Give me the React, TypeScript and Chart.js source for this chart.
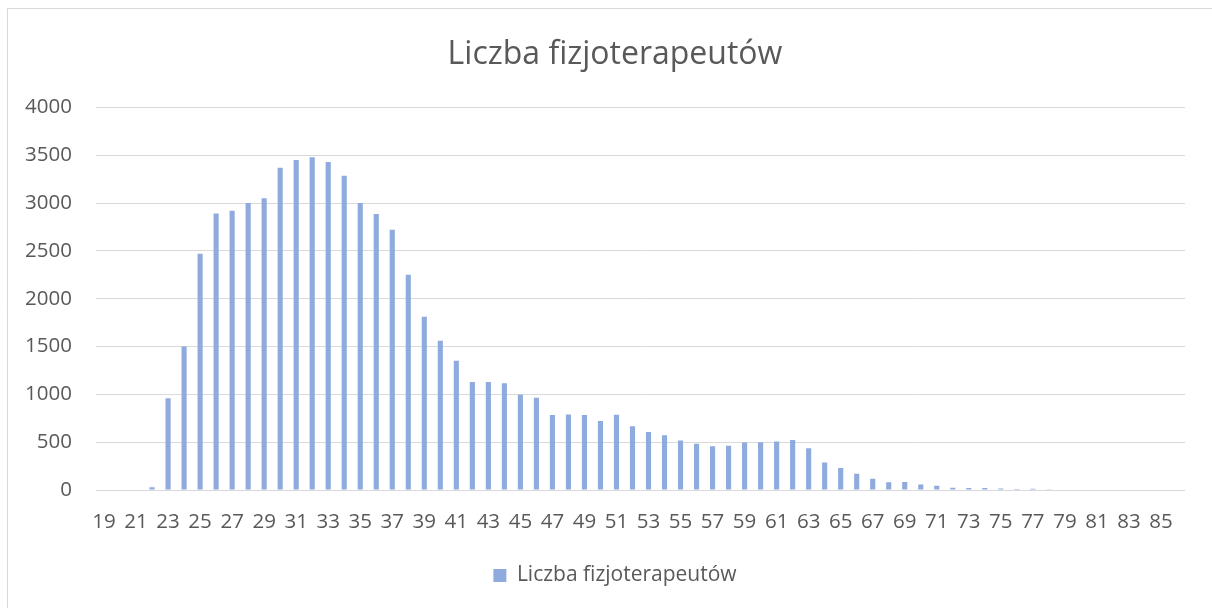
import React, { useEffect, useRef } from "react";
import { Chart, registerables } from "chart.js";

Chart.register(...registerables);

const ages: string[] = [];
for (let a = 19; a <= 86; a++) ages.push(String(a));

const counts: number[] = [
  0, 0, 0, 30, 960, 1500, 2470, 2890, 2920, 3000,
  3050, 3370, 3450, 3480, 3430, 3285, 3000, 2885, 2720, 2250,
  1810, 1560, 1350, 1130, 1128, 1115, 995, 965, 783, 790,
  783, 722, 787, 667, 607, 573, 517, 483, 458, 462,
  496, 498, 507, 524, 437, 287, 231, 170, 118, 80,
  83, 58, 45, 24, 21, 21, 15, 10, 12, 3,
  0, 0, 0, 0, 0, 0, 0, 0,
];

const seriesName = "Liczba fizjoterapeutów";
const titleText = "Liczba fizjoterapeutów";

const FONT = "'Open Sans', 'Noto Sans', sans-serif";
const TEXT = "#595959";
const GRID = "#d9d9d9";
const BAR = "#8FAADC";

const borderPlugin = {
  id: "outerBorder",
  beforeDraw(chart: any) {
    const ctx = chart.ctx;
    ctx.save();
    ctx.fillStyle = "#ffffff";
    ctx.fillRect(0, 0, chart.width, chart.height);
    ctx.strokeStyle = GRID;
    ctx.lineWidth = 1;
    ctx.beginPath();
    ctx.moveTo(7.5, chart.height);
    ctx.lineTo(7.5, 8.5);
    ctx.lineTo(chart.width, 8.5);
    ctx.stroke();
    ctx.restore();
  },
};

export default function App() {
  const ref = useRef<HTMLCanvasElement | null>(null);
  useEffect(() => {
    document.body.style.margin = "0";
    if (!ref.current) return;
    const chart = new Chart(ref.current, {
      type: "bar",
      data: {
        labels: ages,
        datasets: [
          {
            label: seriesName,
            data: counts,
            backgroundColor: BAR,
            borderWidth: 0,
            categoryPercentage: 1,
            barPercentage: 0.32,
          },
        ],
      },
      options: {
        animation: false,
        responsive: false,
        maintainAspectRatio: false,
        layout: { padding: { top: 11, right: 27, bottom: 12, left: 45 } },
        plugins: {
          title: {
            display: true,
            text: titleText,
            color: TEXT,
            font: { family: FONT, size: 32, weight: "normal", lineHeight: 1.2 },
            padding: { top: 25, bottom: 33 },
          },
          legend: {
            display: true,
            position: "bottom",
            labels: {
              color: TEXT,
              font: { family: FONT, size: 21 },
              boxWidth: 13,
              boxHeight: 13,
              padding: 12,
            },
          },
          tooltip: { enabled: false },
        },
        scales: {
          x: {
            grid: { display: false, drawTicks: false },
            border: { display: false },
            ticks: {
              color: TEXT,
              font: { family: FONT, size: 20.5 },
              autoSkip: false,
              maxRotation: 0,
              minRotation: 0,
              padding: 20,
              callback: (_v: any, i: number) => (i % 2 === 0 ? ages[i] : ""),
            },
            afterFit: (s: any) => {
              s.height = 63;
            },
          },
          y: {
            min: 0,
            max: 4000,
            grid: { color: GRID, drawTicks: false, lineWidth: 1 },
            border: { display: false },
            ticks: {
              stepSize: 500,
              color: TEXT,
              font: { family: FONT, size: 20.5 },
              padding: 24,
              callback: (v: any) => String(v),
            },
            afterFit: (s: any) => {
              s.width = 51;
              s._computeLabelArea = () => undefined;
            },
          },
        },
      },
      plugins: [borderPlugin],
    });
    return () => chart.destroy();
  }, []);
  return (
    <div style={{ width: 1212, height: 608 }}>
      <canvas ref={ref} width={1212} height={608} style={{ display: "block" }} />
    </div>
  );
}
